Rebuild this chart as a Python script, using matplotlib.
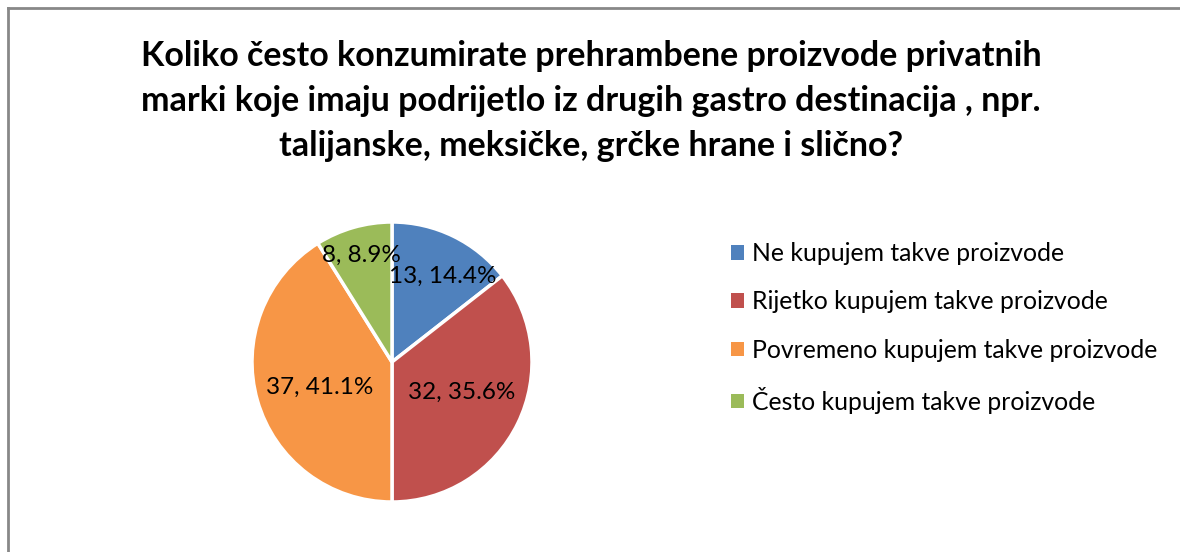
import numpy as np
import matplotlib.pyplot as plt
from matplotlib.lines import Line2D
from matplotlib.patches import Patch

plt.rcParams['font.family'] = ['Lato', 'DejaVu Sans']

# Podaci
kategorije = ['Ne kupujem takve proizvode', 'Rijetko kupujem takve proizvode',
              'Povremeno kupujem takve proizvode', 'Često kupujem takve proizvode']
broj = [13, 32, 37, 8]
postotak = [14.4, 35.6, 41.1, 8.9]
boje = ['#4F81BD', '#C0504D', '#F79646', '#9BBB59']

W, H = 1180, 552
fig = plt.figure(figsize=(W / 100, H / 100), dpi=100)

# okvir grafikona
fig.add_artist(Line2D([8 / W, 1.0], [1 - 8 / H, 1 - 8 / H], color='#888888', lw=2))
fig.add_artist(Line2D([8 / W, 8 / W], [0.0, 1 - 8 / H], color='#888888', lw=2))

fig.text(591 / W, 1 - 101 / H,
         'Koliko često konzumirate prehrambene proizvode privatnih\n'
         'marki koje imaju podrijetlo iz drugih gastro destinacija , npr.\n'
         'talijanske, meksičke, grčke hrane i slično?',
         ha='center', va='center', fontsize=24.5, fontweight='bold', linespacing=1.5)

# pita
cx, cy, r = 392, 362, 140
ax = fig.add_axes([(cx - r) / W, (H - cy - r) / H, 2 * r / W, 2 * r / H])
wedges, _ = ax.pie(broj, colors=boje, startangle=90, counterclock=False,
                   wedgeprops=dict(edgecolor='white', linewidth=2.5))
ax.set_xlim(-1, 1)
ax.set_ylim(-1, 1)

# položaj oznaka (udaljenost od središta, pomak kuta)
udaljenost = [0.71, 0.54, 0.55, 0.79]
pomak = [-5, 2.5, 3.5, 0]
for w, n, p, d, dk in zip(wedges, broj, postotak, udaljenost, pomak):
    kut = np.deg2rad((w.theta1 + w.theta2) / 2 + dk)
    ax.text(d * np.cos(kut), d * np.sin(kut), f'{n}, {p}%',
            ha='center', va='center', fontsize=17.5)

# legenda
ruke = [Patch(facecolor=b, edgecolor='none') for b in boje]
fig.legend(ruke, kategorije, loc='center left', bbox_to_anchor=(709 / W, 1 - 328 / H),
           frameon=False, fontsize=17.8, handlelength=0.53, handleheight=0.53,
           handletextpad=0.32, labelspacing=1.02)

plt.savefig('out.png', dpi=100)
